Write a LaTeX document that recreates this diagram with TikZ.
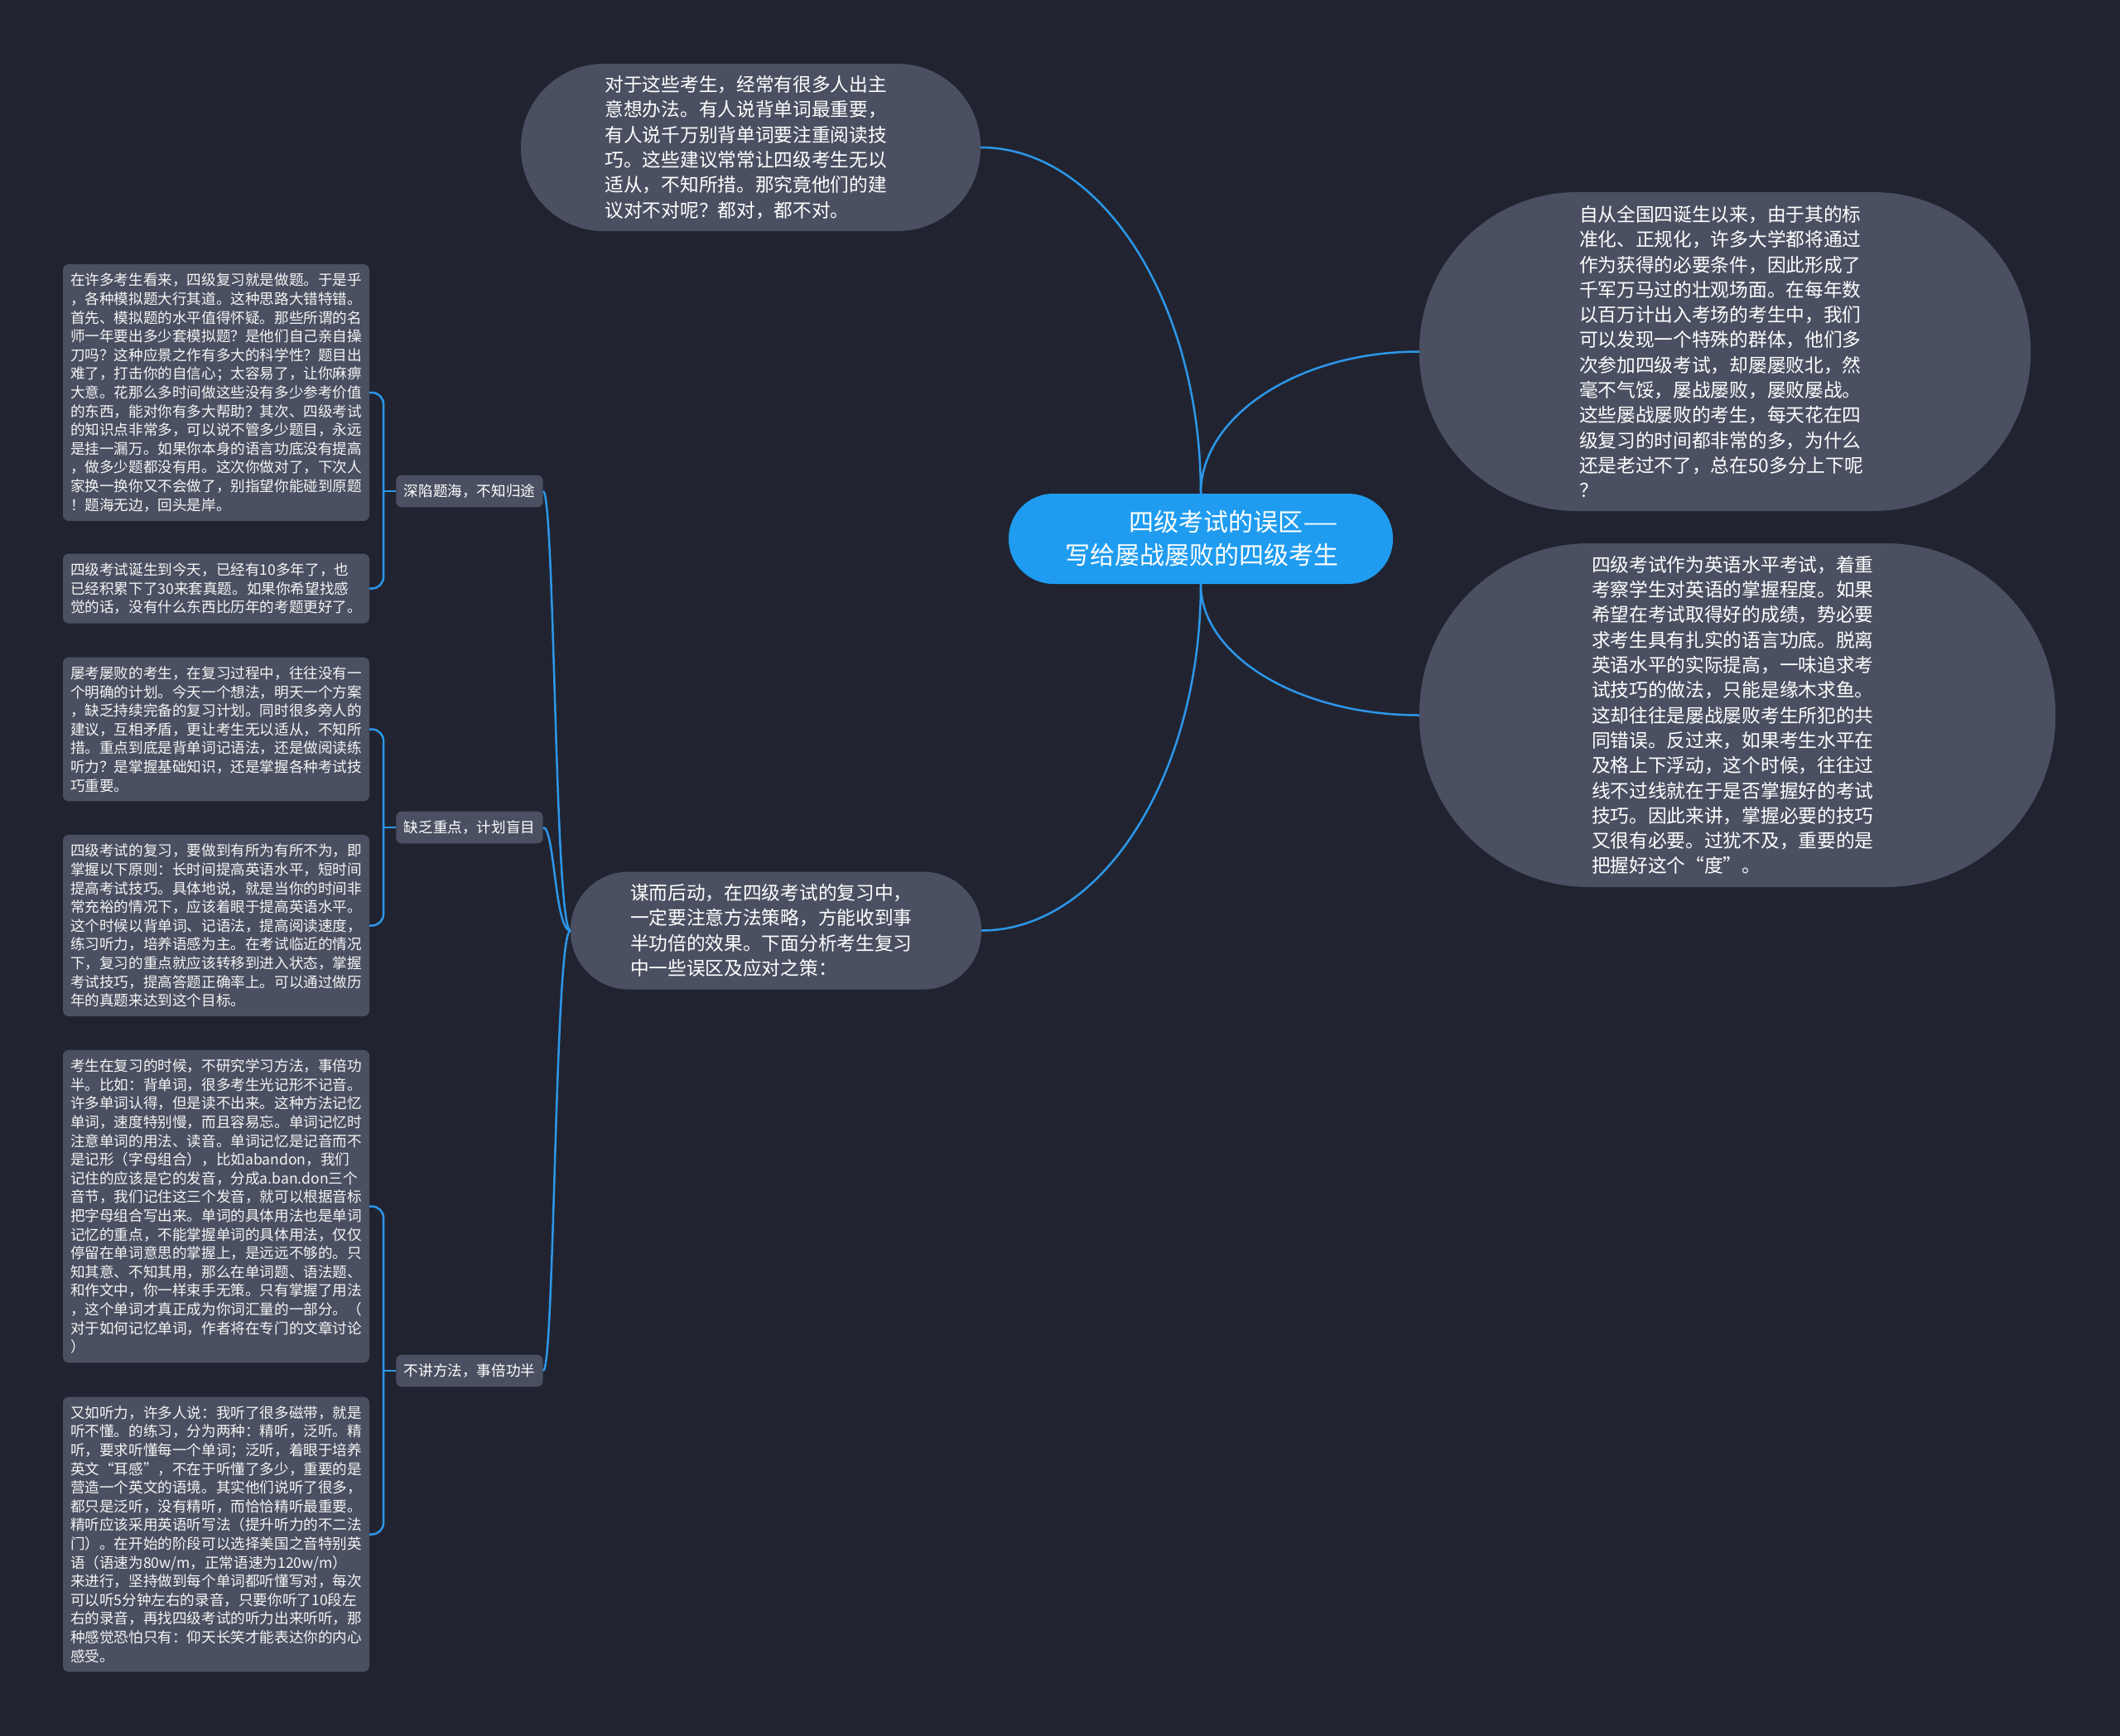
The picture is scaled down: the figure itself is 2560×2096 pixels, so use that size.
\documentclass[tikz,border=0pt]{standalone}
\usepackage{fontspec}
\setmainfont{Noto Sans CJK SC}
\usepackage{tikz}

\definecolor{bgnavy}{HTML}{212430}
\definecolor{slate}{HTML}{4A5061}
\definecolor{hubblue}{HTML}{1F9CF0}
\definecolor{linkblue}{HTML}{2C97EA}
\newcommand\hubfont{\fontsize{30}{40}\selectfont}
\newcommand\bubfont{\fontsize{22.7}{30.3}\selectfont}
\newcommand\leaffont{\fontsize{17.6}{22.6}\selectfont}

\begin{document}
\begin{tikzpicture}[x=1pt,y=-1pt,
    hub/.style={fill=hubblue, text=white, rounded corners=54, minimum width=464, minimum height=109, align=right, text width=332, font=\hubfont},
    bubble/.style={fill=slate, text=white, align=left, text width=352, font=\bubfont},
    leaf/.style={fill=slate, text=white!92!gray, rounded corners=7, align=left, text width=352, inner xsep=9, inner ysep=11, font=\leaffont},
    tag/.style={fill=slate, text=white, rounded corners=7, inner xsep=9.5, inner ysep=11, font=\leaffont},
    link/.style={draw=linkblue, line width=2.5}]
    \useasboundingbox (0,0) rectangle (2560,2096);
    \fill[bgnavy] (0,0) rectangle (2560,2096);

    \node[hub] (cen) at (1450,650.5) {四级考试的误区\scalebox{1.6}[1]{—}\\写给屡战屡败的四级考生};

    \node[bubble, minimum width=555, minimum height=202, rounded corners=100] (top) at (906.5,178) {对于这些考生，经常有很多人出主\\意想办法。有人说背单词最重要，\\有人说千万别背单词要注重阅读技\\巧。这些建议常常让四级考生无以\\适从，不知所措。那究竟他们的建\\议对不对呢？都对，都不对。};
    \node[bubble, minimum width=738, minimum height=385, rounded corners=190] (rb1) at (2083,424.5) {自从全国四诞生以来，由于其的标\\准化、正规化，许多大学都将通过\\作为获得的必要条件，因此形成了\\千军万马过的壮观场面。在每年数\\以百万计出入考场的考生中，我们\\可以发现一个特殊的群体，他们多\\次参加四级考试，却屡屡败北，然\\毫不气馁，屡战屡败，屡败屡战。\\这些屡战屡败的考生，每天花在四\\级复习的时间都非常的多，为什么\\还是老过不了，总在50多分上下呢\\？};
    \node[bubble, minimum width=768, minimum height=415, rounded corners=205] (rb2) at (2098,863.5) {四级考试作为英语水平考试，着重\\考察学生对英语的掌握程度。如果\\希望在考试取得好的成绩，势必要\\求考生具有扎实的语言功底。脱离\\英语水平的实际提高，一味追求考\\试技巧的做法，只能是缘木求鱼。\\这却往往是屡战屡败考生所犯的共\\同错误。反过来，如果考生水平在\\及格上下浮动，这个时候，往往过\\线不过线就在于是否掌握好的考试\\技巧。因此来讲，掌握必要的技巧\\又很有必要。过犹不及，重要的是\\把握好这个“度”。};
    \node[bubble, minimum width=496, minimum height=142, rounded corners=70] (mid) at (937,1123.5) {谋而后动，在四级考试的复习中，\\一定要注意方法策略，方能收到事\\半功倍的效果。下面分析考生复习\\中一些误区及应对之策：};

    \node[tag] (lab1) at (567,593) {深陷题海，不知归途};
    \node[tag] (lab2) at (567,999) {缺乏重点，计划盲目};
    \node[tag] (lab3) at (567,1655) {不讲方法，事倍功半};

    \node[leaf] (boxA) at (261,474) {在许多考生看来，四级复习就是做题。于是乎\\，各种模拟题大行其道。这种思路大错特错。\\首先、模拟题的水平值得怀疑。那些所谓的名\\师一年要出多少套模拟题？是他们自己亲自操\\刀吗？这种应景之作有多大的科学性？题目出\\难了，打击你的自信心；太容易了，让你麻痹\\大意。花那么多时间做这些没有多少参考价值\\的东西，能对你有多大帮助？其次、四级考试\\的知识点非常多，可以说不管多少题目，永远\\是挂一漏万。如果你本身的语言功底没有提高\\，做多少题都没有用。这次你做对了，下次人\\家换一换你又不会做了，别指望你能碰到原题\\！题海无边，回头是岸。};
    \node[leaf] (boxB) at (261,710.5) {四级考试诞生到今天，已经有10多年了，也\\已经积累下了30来套真题。如果你希望找感\\觉的话，没有什么东西比历年的考题更好了。};
    \node[leaf] (boxC) at (261,880.5) {屡考屡败的考生，在复习过程中，往往没有一\\个明确的计划。今天一个想法，明天一个方案\\，缺乏持续完备的复习计划。同时很多旁人的\\建议，互相矛盾，更让考生无以适从，不知所\\措。重点到底是背单词记语法，还是做阅读练\\听力？是掌握基础知识，还是掌握各种考试技\\巧重要。};
    \node[leaf] (boxD) at (261,1117.5) {四级考试的复习，要做到有所为有所不为，即\\掌握以下原则：长时间提高英语水平，短时间\\提高考试技巧。具体地说，就是当你的时间非\\常充裕的情况下，应该着眼于提高英语水平。\\这个时候以背单词、记语法，提高阅读速度，\\练习听力，培养语感为主。在考试临近的情况\\下，复习的重点就应该转移到进入状态，掌握\\考试技巧，提高答题正确率上。可以通过做历\\年的真题来达到这个目标。};
    \node[leaf] (boxE) at (261,1456.5) {考生在复习的时候，不研究学习方法，事倍功\\半。比如：背单词，很多考生光记形不记音。\\许多单词认得，但是读不出来。这种方法记忆\\单词，速度特别慢，而且容易忘。单词记忆时\\注意单词的用法、读音。单词记忆是记音而不\\是记形（字母组合），比如abandon，我们\\记住的应该是它的发音，分成a.ban.don三个\\音节，我们记住这三个发音，就可以根据音标\\把字母组合写出来。单词的具体用法也是单词\\记忆的重点，不能掌握单词的具体用法，仅仅\\停留在单词意思的掌握上，是远远不够的。只\\知其意、不知其用，那么在单词题、语法题、\\和作文中，你一样束手无策。只有掌握了用法\\，这个单词才真正成为你词汇量的一部分。（\\对于如何记忆单词，作者将在专门的文章讨论\\）};
    \node[leaf] (boxF) at (261,1852.5) {又如听力，许多人说：我听了很多磁带，就是\\听不懂。的练习，分为两种：精听，泛听。精\\听，要求听懂每一个单词；泛听，着眼于培养\\英文“耳感”，不在于听懂了多少，重要的是\\营造一个英文的语境。其实他们说听了很多，\\都只是泛听，没有精听，而恰恰精听最重要。\\精听应该采用英语听写法（提升听力的不二法\\门）。在开始的阶段可以选择美国之音特别英\\语（语速为80w/m，正常语速为120w/m）\\来进行，坚持做到每个单词都听懂写对，每次\\可以听5分钟左右的录音，只要你听了10段左\\右的录音，再找四级考试的听力出来听听，那\\种感觉恐怕只有：仰天长笑才能表达你的内心\\感受。};

    \draw[link] (cen.north) .. controls +(0,-230) and +(146,0) .. (top.east);
    \draw[link] (cen.north) .. controls +(0,-94) and +(-145,0) .. (rb1.west);
    \draw[link] (cen.south) .. controls +(0,87) and +(-145,0) .. (rb2.west);
    \draw[link] (cen.south) .. controls +(0,230) and +(146,0) .. (mid.east);

    \draw[link] (mid.west) .. controls +(-19,0) and +(14,0) .. (lab1.east);
    \draw[link] (mid.west) .. controls +(-19,0) and +(14,0) .. (lab2.east);
    \draw[link] (mid.west) .. controls +(-19,0) and +(14,0) .. (lab3.east);

    \draw[link] (lab1.west) -- ++(-15,0) coordinate (j1);
    \draw[link] (lab2.west) -- ++(-15,0) coordinate (j2);
    \draw[link] (lab3.west) -- ++(-15,0) coordinate (j3);
    \draw[link, rounded corners=14] (j1) |- (boxA.east);
    \draw[link, rounded corners=14] (j1) |- (boxB.east);
    \draw[link, rounded corners=14] (j2) |- (boxC.east);
    \draw[link, rounded corners=14] (j2) |- (boxD.east);
    \draw[link, rounded corners=14] (j3) |- (boxE.east);
    \draw[link, rounded corners=14] (j3) |- (boxF.east);
\end{tikzpicture}
\end{document}
